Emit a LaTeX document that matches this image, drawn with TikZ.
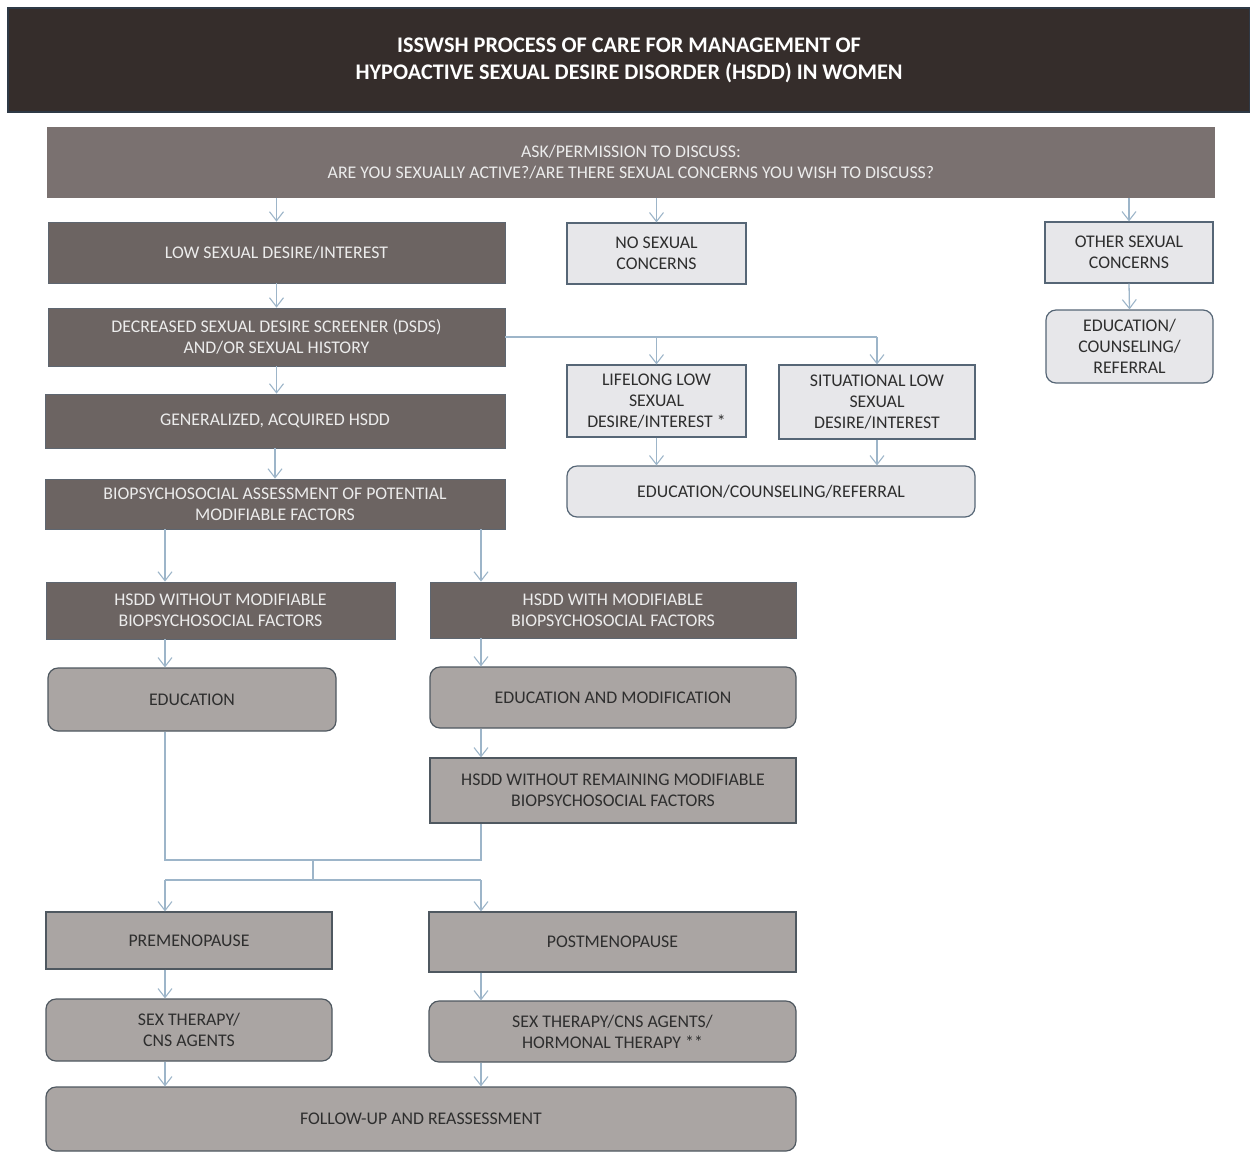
\documentclass[tikz,border=0pt]{standalone}
\usepackage{fontspec}
\setmainfont{Carlito}
\usetikzlibrary{arrows.meta}
\definecolor{hdrfill}{HTML}{352D2B}
\definecolor{hdrline}{HTML}{2E3946}
\definecolor{askfill}{HTML}{7A7170}
\definecolor{dkfill}{HTML}{6C6462}
\definecolor{dkline}{HTML}{5E6670}
\definecolor{mdfill}{HTML}{AAA5A3}
\definecolor{mdline}{HTML}{4F5860}
\definecolor{ltfill}{HTML}{E7E7EA}
\definecolor{ltline}{HTML}{566676}
\definecolor{dktext}{HTML}{ECECEC}
\definecolor{bltext}{HTML}{2E2E2E}
\definecolor{arrcol}{HTML}{9DB5C9}
\tikzset{
  box/.style={rectangle, inner sep=2pt, align=center, font=\fontsize{17.8}{21}\selectfont, line width=1.2pt},
  hdr/.style={box, fill=hdrfill, draw=hdrline, line width=1.5pt, text=white, font=\fontsize{22.3}{27}\selectfont\bfseries},
  askbox/.style={box, fill=askfill, draw=askfill, text=dktext},
  dk/.style={box, fill=dkfill, draw=dkline, line width=0.8pt, text=dktext},
  md/.style={box, fill=mdfill, draw=mdline, text=bltext},
  mdr/.style={md, rounded corners=10pt},
  lt/.style={box, fill=ltfill, draw=ltline, text=bltext},
  ltr/.style={lt, rounded corners=10pt},
  ln/.style={draw=arrcol, line width=1.3pt},
  arr/.style={ln, -{Straight Barb[length=9pt,width=14pt,line width=1.1pt]}},
}
\begin{document}
\begin{tikzpicture}[x=1pt,y=-1pt]
\useasboundingbox (0,0) rectangle (1250,1152);
% header
\node[hdr, minimum width=1242pt, minimum height=104pt] (hdr) at (629,60)
  {ISSWSH PROCESS OF CARE FOR MANAGEMENT OF\\HYPOACTIVE SEXUAL DESIRE DISORDER (HSDD) IN WOMEN};
\node[askbox, minimum width=1166pt, minimum height=69pt] (ask) at (631,162.5)
  {ASK/PERMISSION TO DISCUSS:\\ARE YOU SEXUALLY ACTIVE?/ARE THERE SEXUAL CONCERNS YOU WISH TO DISCUSS?};
% row 1
\node[dk, minimum width=457pt, minimum height=61pt] (low) at (276.5,252.5) {LOW SEXUAL DESIRE/INTEREST};
\node[lt, minimum width=179pt, minimum height=61pt] (no) at (656.5,253.5) {NO SEXUAL\\CONCERNS};
\node[lt, minimum width=168pt, minimum height=61pt] (other) at (1129,252.5) {OTHER SEXUAL\\CONCERNS};
\node[ltr, minimum width=167pt, minimum height=73pt] (ecr1) at (1129.5,346.5) {EDUCATION/\\COUNSELING/\\REFERRAL};
% left column
\node[dk, minimum width=457pt, minimum height=58pt] (dsds) at (276.5,337) {DECREASED SEXUAL DESIRE SCREENER (DSDS)\\AND/OR SEXUAL HISTORY};
\node[dk, minimum width=460pt, minimum height=54pt] (gen) at (275,421) {GENERALIZED, ACQUIRED HSDD};
\node[dk, minimum width=460pt, minimum height=50pt] (bio) at (275,504) {BIOPSYCHOSOCIAL ASSESSMENT OF POTENTIAL\\MODIFIABLE FACTORS};
% lifelong / situational
\node[lt, minimum width=179pt, minimum height=72pt] (life) at (656.5,401) {LIFELONG LOW\\SEXUAL\\DESIRE/INTEREST *};
\node[lt, minimum width=196pt, minimum height=74pt] (sit) at (877,402) {SITUATIONAL LOW\\SEXUAL\\DESIRE/INTEREST};
\node[ltr, minimum width=408pt, minimum height=51pt] (ecr2) at (771,491.5) {EDUCATION/COUNSELING/REFERRAL};
% modifiable
\node[dk, minimum width=349pt, minimum height=57pt] (woo) at (220.5,610.5) {HSDD WITHOUT MODIFIABLE\\BIOPSYCHOSOCIAL FACTORS};
\node[dk, minimum width=366pt, minimum height=56pt] (wi) at (613,610) {HSDD WITH MODIFIABLE\\BIOPSYCHOSOCIAL FACTORS};
\node[mdr, minimum width=288pt, minimum height=63pt] (edu) at (192,699.5) {EDUCATION};
\node[mdr, minimum width=366pt, minimum height=61pt] (edum) at (613,697.5) {EDUCATION AND MODIFICATION};
\node[md, minimum width=366pt, minimum height=65pt] (rem) at (613,790.5) {HSDD WITHOUT REMAINING MODIFIABLE\\BIOPSYCHOSOCIAL FACTORS};
% menopause
\node[md, minimum width=286pt, minimum height=57pt] (pre) at (189,940.5) {PREMENOPAUSE};
\node[md, minimum width=367pt, minimum height=60pt] (post) at (612.5,942) {POSTMENOPAUSE};
\node[mdr, minimum width=286pt, minimum height=62pt] (stl) at (189,1030) {SEX THERAPY/\\CNS AGENTS};
\node[mdr, minimum width=367pt, minimum height=61pt] (str) at (612.5,1031.5) {SEX THERAPY/CNS AGENTS/\\HORMONAL THERAPY **};
\node[mdr, minimum width=750pt, minimum height=64pt] (fu) at (421,1119) {FOLLOW-UP AND REASSESSMENT};
% column coordinates
\coordinate (cL) at (165,0);
\coordinate (cR) at (481,0);
\coordinate (cM) at (313,0);
\coordinate (j1) at (0,860);
\coordinate (j2) at (0,880);
% connectors
\draw[arr] (ask.south -| low.north) -- (low.north);
\draw[arr] (ask.south -| no.north) -- (no.north);
\draw[arr] (ask.south -| other.north) -- (other.north);
\draw[arr] (other.south) -- (ecr1.north);
\draw[arr] (low.south) -- (low.south |- dsds.north);
\draw[arr] (dsds.south) -- (dsds.south |- gen.north);
\draw[arr] (gen.south) -- (gen.south |- bio.north);
\draw[ln] (dsds.east) -- (dsds.east -| sit.north);
\draw[arr] (dsds.east -| life.north) -- (life.north);
\draw[arr] (dsds.east -| sit.north) -- (sit.north);
\draw[arr] (life.south) -- (life.south |- ecr2.north);
\draw[arr] (sit.south) -- (sit.south |- ecr2.north);
\draw[arr] (bio.south -| cL) -- (woo.north -| cL);
\draw[arr] (bio.south -| cR) -- (wi.north -| cR);
\draw[arr] (woo.south -| cL) -- (edu.north -| cL);
\draw[arr] (wi.south -| cR) -- (edum.north -| cR);
\draw[arr] (edum.south -| cR) -- (rem.north -| cR);
\draw[ln] (edu.south -| cL) -- (j1 -| cL) -- (j1 -| cR) -- (rem.south -| cR);
\draw[ln] (j1 -| cM) -- (j2 -| cM);
\draw[ln] (j2 -| cL) -- (j2 -| cR);
\draw[arr] (j2 -| cL) -- (pre.north -| cL);
\draw[arr] (j2 -| cR) -- (post.north -| cR);
\draw[arr] (pre.south -| cL) -- (stl.north -| cL);
\draw[arr] (post.south -| cR) -- (str.north -| cR);
\draw[arr] (stl.south -| cL) -- (fu.north -| cL);
\draw[arr] (str.south -| cR) -- (fu.north -| cR);
\end{tikzpicture}
\end{document}
